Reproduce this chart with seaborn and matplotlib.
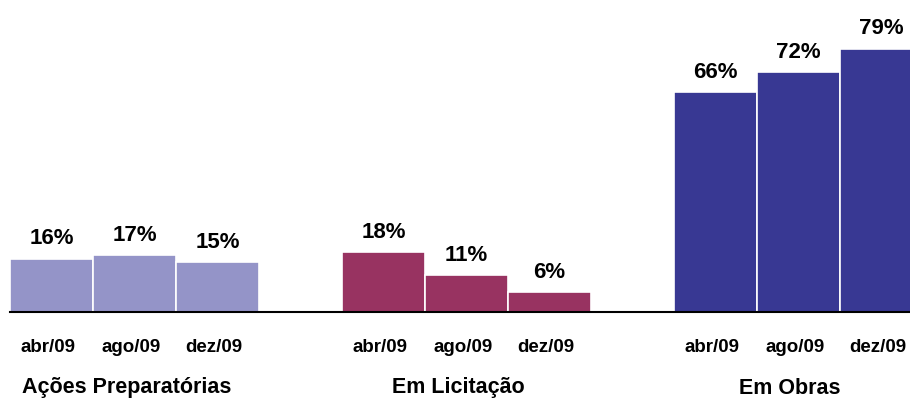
import pandas as pd
import matplotlib.pyplot as plt
import seaborn as sns

# chart values
groups = ['Ações Preparatórias', 'Em Licitação', 'Em Obras']
months = ['abr/09', 'ago/09', 'dez/09']
acoes = [16, 17, 15]
licitacao = [18, 11, 6]
obras = [66, 72, 79]
colors = ['#9494C8', '#983361', '#383893']


def main():
    rows = []
    for g, (name, vals) in enumerate(zip(groups, [acoes, licitacao, obras])):
        for m, (mon, v) in enumerate(zip(months, vals)):
            rows.append({'grupo': name, 'mes': mon, 'pos': g * 4 + m, 'valor': v})
    df = pd.DataFrame(rows)

    sns.set_style('white')
    plt.rcParams['font.family'] = ['Liberation Sans', 'DejaVu Sans']
    plt.rcParams['font.weight'] = 'bold'
    plt.rcParams['text.color'] = 'black'

    fig = plt.figure(figsize=(9.1, 4.01), dpi=100)
    ax = fig.add_axes([10 / 910, 89 / 401, 1 - 10 / 910, 312 / 401])

    sns.barplot(data=df, x='pos', y='valor', hue='grupo', palette=colors,
                native_scale=True, width=1.0, dodge=False, legend=False,
                edgecolor='white', linewidth=1.2, saturation=1, ax=ax)

    ax.set_xlim(-0.5, 900 / 83 - 0.5)
    ax.set_ylim(0, 93.6)
    ax.set_xticks([])
    ax.set_yticks([])
    ax.set_xlabel('')
    ax.set_ylabel('')
    sns.despine(ax=ax, left=True, top=True, right=True)
    ax.spines['bottom'].set_color('black')
    ax.spines['bottom'].set_linewidth(1.5)

    trans = ax.get_xaxis_transform()
    for _, r in df.iterrows():
        ax.text(r['pos'], r['valor'] + 2.8, f"{r['valor']}%", ha='center', va='bottom',
                fontsize=16, fontweight='bold', color='black')
        ax.text(r['pos'] - 0.04, -35 / 312, r['mes'], transform=trans, ha='center',
                va='center', fontsize=13.5, fontweight='bold', color='black')
    for g, name in enumerate(groups):
        ax.text(g * 4 + 1 - 0.1, -76 / 312, name, transform=trans, ha='center',
                va='center', fontsize=15.5, fontweight='bold', color='black')

    fig.savefig('out.png', dpi=100)
    plt.close(fig)


if __name__ == '__main__':
    main()
